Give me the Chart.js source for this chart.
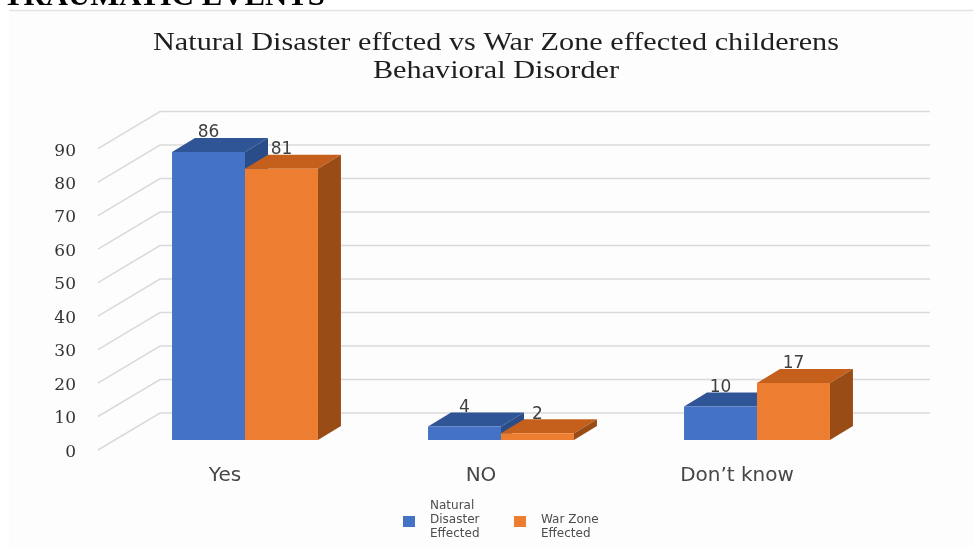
<!DOCTYPE html>
<html>
<head>
<meta charset="utf-8">
<script src="https://cdn.jsdelivr.net/npm/chart.js@4.4.0/dist/chart.umd.min.js"></script>
<style>
  html, body { margin: 0; padding: 0; background: #ffffff; }
  canvas { display: block; }
</style>
</head>
<body>
<canvas id="disorderChart" width="973" height="546"></canvas>
<script>
const categories = ['Yes', 'NO', 'Don\u2019t know'];
const naturalDisaster = [86, 4, 10];
const warZone = [81, 2, 17];
const seriesNames = [['Natural', 'Disaster', 'Effected'], ['War Zone', 'Effected']];
const titleLines = ['Natural Disaster effcted vs War Zone effected childerens', 'Behavioral Disorder'];
const headingText = 'TRAUMATIC EVENTS';
const yTicks = [0, 10, 20, 30, 40, 50, 60, 70, 80, 90];

const frontColors = ['#4472C4', '#ED7D31'];
const topColors = ['#2F5597', '#C5601C'];
const sideColors = ['#2A4D8A', '#9A4C17'];

// bar depth and wall depth (pixels), fakes the excel 3d look
const barDx = 23, barDy = 14;
const wallDx = 43, wallDy = 27;
const floorDx = 19, floorDy = 10;

const ctx = document.getElementById('disorderChart').getContext('2d');

const pageText = {
    id: 'pageText',
    beforeDraw(chart) {
        const c = chart.ctx;
        c.save();
        c.fillStyle = '#ffffff';
        c.fillRect(0, 0, chart.width, chart.height);
        c.fillStyle = '#fdfdfd';
        c.fillRect(9, 11, chart.width - 9, chart.height - 11);
        c.strokeStyle = '#e4e4e4';
        c.lineWidth = 1.5;
        c.beginPath();
        c.moveTo(9, 10.5);
        c.lineTo(chart.width, 10.5);
        c.stroke();

        // heading cut off at the top
        c.fillStyle = '#000000';
        c.font = 'bold 30px "Liberation Serif"';
        c.textAlign = 'left';
        c.textBaseline = 'alphabetic';
        let w = c.measureText(headingText).width;
        c.save();
        c.translate(3, 5);
        c.scale(322 / w, 1);
        c.fillText(headingText, 0, 0);
        c.restore();

        // title
        c.fillStyle = '#1f1f1f';
        c.font = '26px "Liberation Serif"';
        c.textAlign = 'center';
        c.textBaseline = 'middle';
        w = c.measureText(titleLines[0]).width;
        const sx = 686 / w;
        titleLines.forEach((line, i) => {
            c.save();
            c.translate(496, 43 + i * 28);
            c.scale(sx, 1);
            c.fillText(line, 0, 0);
            c.restore();
        });
        c.restore();
    }
};

const faux3d = {
    id: 'faux3d',
    beforeDatasetsDraw(chart) {
        const c = chart.ctx;
        const area = chart.chartArea;
        const y = chart.scales.y;
        c.save();
        c.strokeStyle = '#dadada';
        c.lineWidth = 1.5;
        yTicks.forEach(v => {
            const py = y.getPixelForValue(v);
            c.beginPath();
            c.moveTo(area.left - floorDx, py + floorDy);
            c.lineTo(area.left + wallDx, py - wallDy);
            c.lineTo(area.right + 45, py - wallDy);
            c.stroke();
        });

        // top and side faces, drawn before the fronts
        for (let i = 0; i < categories.length; i++) {
            for (let d = 0; d < chart.data.datasets.length; d++) {
                const bar = chart.getDatasetMeta(d).data[i];
                const L = bar.x - bar.width / 2;
                const R = bar.x + bar.width / 2;
                const t = bar.y, b = bar.base;
                c.fillStyle = topColors[d];
                c.beginPath();
                c.moveTo(L, t);
                c.lineTo(R, t);
                c.lineTo(R + barDx, t - barDy);
                c.lineTo(L + barDx, t - barDy);
                c.closePath();
                c.fill();
                c.fillStyle = sideColors[d];
                c.beginPath();
                c.moveTo(R, t);
                c.lineTo(R + barDx, t - barDy);
                c.lineTo(R + barDx, b - barDy);
                c.lineTo(R, b);
                c.closePath();
                c.fill();
            }
        }
        c.restore();
    },
    afterDatasetsDraw(chart) {
        const c = chart.ctx;
        c.save();
        c.fillStyle = '#404040';
        c.font = '17px "DejaVu Sans"';
        c.textAlign = 'center';
        c.textBaseline = 'middle';
        chart.data.datasets.forEach((ds, d) => {
            chart.getDatasetMeta(d).data.forEach((bar, i) => {
                c.fillText(String(ds.data[i]), bar.x, bar.y - 19);
            });
        });
        c.restore();
    },
    afterDraw(chart) {
        const c = chart.ctx;
        c.save();
        c.font = '12px "DejaVu Sans"';
        c.textAlign = 'left';
        c.textBaseline = 'middle';
        const items = [
            { box: 403, text: 430, lines: seriesNames[0], color: frontColors[0] },
            { box: 514, text: 541, lines: seriesNames[1], color: frontColors[1] }
        ];
        items.forEach(it => {
            c.fillStyle = it.color;
            c.fillRect(it.box, 516, 12, 11);
            c.fillStyle = '#4d4d4d';
            it.lines.forEach((ln, k) => {
                c.fillText(ln, it.text, (it.lines.length === 3 ? 506 : 520) + k * 14);
            });
        });
        c.restore();
    }
};

const chart = new Chart(ctx, {
    type: 'bar',
    data: {
        labels: categories,
        datasets: [{
            label: 'Natural Disaster Effected',
            data: naturalDisaster,
            backgroundColor: frontColors[0],
            borderWidth: 0
        }, {
            label: 'War Zone Effected',
            data: warZone,
            backgroundColor: frontColors[1],
            borderWidth: 0
        }]
    },
    options: {
        responsive: false,
        animation: false,
        categoryPercentage: 0.57,
        barPercentage: 1.0,
        layout: {
            padding: { top: 138.6, right: 88, bottom: 0, left: 0 }
        },
        plugins: {
            legend: { display: false },
            title: { display: false },
            tooltip: { enabled: false }
        },
        scales: {
            x: {
                grid: { display: false, drawTicks: false },
                border: { display: false },
                ticks: {
                    color: '#474747',
                    font: { family: 'DejaVu Sans', size: 20 },
                    padding: 24,
                    labelOffset: -20,
                    maxRotation: 0
                },
                afterFit: function (scale) {
                    scale.height = 106;
                }
            },
            y: {
                min: 0,
                max: 90,
                grid: { display: false, drawTicks: false },
                border: { display: false },
                ticks: {
                    stepSize: 10,
                    color: '#333333',
                    font: { family: 'DejaVu Serif', size: 17 },
                    padding: 41,
                    labelOffset: 12.5
                },
                afterFit: function (scale) {
                    scale.width = 117;
                }
            }
        }
    },
    plugins: [pageText, faux3d]
});
</script>
</body>
</html>
